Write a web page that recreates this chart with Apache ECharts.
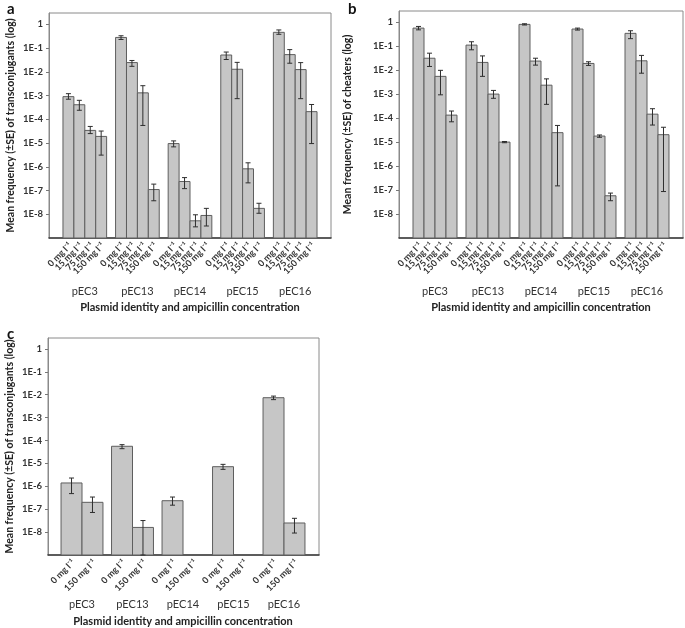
<!DOCTYPE html>
<html>
<head>
<meta charset="utf-8">
<script src="https://cdn.jsdelivr.net/npm/echarts@6/dist/echarts.min.js"></script>
<style>html,body{margin:0;padding:0;background:#fff}#c{width:685px;height:628px}</style>
</head>
<body>
<div id="c"></div>
<script>
const groups = ['pEC3', 'pEC13', 'pEC14', 'pEC15', 'pEC16'];
const dosesAB = ['0 mg l\u207B\u00B9', '15 mg l\u207B\u00B9', '75 mg l\u207B\u00B9', '150 mg l\u207B\u00B9'];
const dosesC = ['0 mg l\u207B\u00B9', '150 mg l\u207B\u00B9'];
const yTickValues = [1e-8, 1e-7, 1e-6, 1e-5, 1e-4, 1e-3, 1e-2, 1e-1, 1];
const yTickLabels = ['1E-8', '1E-7', '1E-6', '1E-5', '1E-4', '1E-3', '1E-2', '1E-1', '1'];
const yMin = 1e-9;
const yMax = 3;

// Panel a: transconjugants (rows = dose, columns = plasmid)
const aMean = [
  [9e-4, 0.28, 9.5e-6, 0.051, 0.46],
  [4.1e-4, 0.0245, 2.4e-7, 0.0128, 0.053],
  [3.4e-5, 1.3e-3, 5.3e-9, 8.2e-7, 0.0124],
  [1.9e-5, 1.1e-7, 8.9e-9, 1.77e-8, 2.1e-4]
];
const aLow = [
  [7e-4, 0.23, 6.9e-6, 0.033, 0.38],
  [2.4e-4, 0.017, 1.2e-7, 7.4e-4, 0.023],
  [2.5e-5, 5.5e-5, 2.95e-9, 2.1e-7, 7.4e-4],
  [3.1e-6, 3.7e-8, 3.2e-9, 1.1e-8, 9.5e-6]
];
const aHigh = [
  [1.2e-3, 0.33, 1.23e-5, 0.068, 0.58],
  [6.3e-4, 0.03, 3.5e-7, 0.025, 0.086],
  [5e-5, 2.6e-3, 9.5e-9, 1.47e-6, 0.0244],
  [3.2e-5, 1.86e-7, 1.77e-8, 2.9e-8, 4.2e-4]
];

// Panel b: cheaters
const bMean = [
  [0.58, 0.113, 0.83, 0.53, 0.35],
  [0.032, 0.0214, 0.0244, 0.0194, 0.025],
  [5.6e-3, 1.02e-3, 2.4e-3, 1.8e-5, 1.48e-4],
  [1.35e-4, 1.01e-5, 2.5e-5, 5.8e-8, 2.06e-5]
];
const bLow = [
  [0.49, 0.072, 0.78, 0.48, 0.21],
  [0.0145, 5.6e-3, 0.0165, 0.016, 7.6e-3],
  [9.5e-4, 6.8e-4, 3.8e-4, 1.6e-5, 5.2e-5],
  [7.1e-5, 9.5e-6, 1.5e-7, 3.6e-8, 8.7e-8]
];
const bHigh = [
  [0.68, 0.156, 0.88, 0.58, 0.45],
  [0.052, 0.04, 0.032, 0.0228, 0.042],
  [0.01, 1.45e-3, 4.4e-3, 2.0e-5, 2.5e-4],
  [2.0e-4, 1.07e-5, 5e-5, 7.5e-8, 4.2e-5]
];

// Panel c: transconjugants
const cMean = [
  [1.4e-6, 5.6e-5, 2.35e-7, 7.2e-6, 7.4e-3],
  [2.0e-7, 1.6e-8, null, null, 2.5e-8]
];
const cLow = [
  [4.8e-7, 4.4e-5, 1.5e-7, 5.5e-6, 6.1e-3],
  [7.2e-8, 1e-9, null, null, 9.1e-9]
];
const cHigh = [
  [2.3e-6, 6.6e-5, 3.4e-7, 9.1e-6, 8.7e-3],
  [3.4e-7, 3.2e-8, null, null, 4.0e-8]
];

const FONT = 'Lato, "Open Sans", sans-serif';
const CAT_GAP = 0.17;

function tickFormatter(v) {
  for (let i = 0; i < yTickValues.length; i++) {
    if (Math.abs(Math.log10(v) - Math.log10(yTickValues[i])) < 1e-6) return yTickLabels[i];
  }
  return '';
}

const option = {
  animation: false,
  backgroundColor: '#fff',
  title: [],
  grid: [], xAxis: [], yAxis: [], series: []
};

function barCenter(api, g, k, n) {
  const c0 = api.coord([0, yMin])[0];
  const c1 = api.coord([1, yMin])[0];
  const band = c1 - c0;
  const cx = api.coord([g, yMin])[0];
  const gw = band * (1 - CAT_GAP);
  const bw = gw / n;
  return { x: cx - gw / 2 + (k + 0.5) * bw, bw: bw };
}

function addPanel(p, frame, inner, means, lows, highs, doses, yTitle, yNameGap, cfg) {
  const fi = 2 * p, ii = 2 * p + 1;
  option.grid.push({
    left: frame.l, top: frame.t, width: frame.r - frame.l, height: frame.b - frame.t,
    show: true, borderColor: '#8a8a8a', borderWidth: 1, backgroundColor: '#fff'
  });
  option.grid.push({
    left: inner.l, top: frame.t, width: inner.r - inner.l, height: frame.b - frame.t
  });
  option.xAxis.push({
    gridIndex: fi, type: 'value', min: 0, max: 1,
    axisLine: { show: true, lineStyle: { color: '#3a3a3a', width: 1.6 } },
    axisTick: { show: false }, axisLabel: { show: false }, splitLine: { show: false }
  });
  option.xAxis.push({
    gridIndex: ii, type: 'category', data: groups,
    axisLine: { show: false }, axisTick: { show: false },
    axisLabel: { margin: cfg.groupMargin, fontFamily: FONT, fontSize: 11, color: '#333' },
    name: 'Plasmid identity and ampicillin concentration',
    nameLocation: 'middle', nameGap: cfg.xNameGap,
    nameTextStyle: { fontFamily: FONT, fontSize: 11, fontWeight: 'bold', color: '#222' }
  });
  option.yAxis.push({
    gridIndex: fi, type: 'log', logBase: 10, min: yMin, max: yMax, splitNumber: 10,
    axisLine: { show: true, lineStyle: { color: '#8a8a8a', width: 1 } },
    axisTick: { show: true, length: 3, lineStyle: { color: '#777' } },
    splitLine: { show: false },
    axisLabel: {
      showMinLabel: false, showMaxLabel: false, margin: cfg.labelMargin,
      fontFamily: FONT, fontSize: 9.5, fontWeight: 'bold', color: '#333',
      formatter: tickFormatter
    },
    name: yTitle, nameLocation: 'middle', nameGap: yNameGap,
    nameTextStyle: { fontFamily: FONT, fontSize: 10.5, fontWeight: 'bold', color: '#222' }
  });
  option.yAxis.push({
    gridIndex: ii, type: 'log', logBase: 10, min: yMin, max: yMax, splitNumber: 10, show: false
  });
  const n = doses.length;
  const barData = [];
  const errData = [];
  const lblData = [];
  for (let k = 0; k < n; k++) {
    for (let g = 0; g < groups.length; g++) {
      if (means[k][g] != null) {
        barData.push([g, k, means[k][g]]);
        errData.push([g, k, lows[k][g], highs[k][g]]);
      }
      lblData.push([g, k, yMin]);
    }
  }
  option.series.push({
    type: 'custom', name: 'bars', xAxisIndex: ii, yAxisIndex: ii, data: barData,
    encode: { x: 0, y: 2 }, z: 3,
    renderItem: function (params, api) {
      const g = api.value(0), k = api.value(1);
      const bc = barCenter(api, g, k, n);
      const yTop = api.coord([g, api.value(2)])[1];
      const yBase = api.coord([g, yMin])[1];
      return {
        type: 'rect',
        shape: { x: bc.x - bc.bw / 2, y: yTop, width: bc.bw, height: yBase - yTop },
        style: { fill: '#c6c6c6', stroke: '#5e5e5e', lineWidth: 1 }
      };
    }
  });
  option.series.push({
    type: 'custom', name: 'SE', xAxisIndex: ii, yAxisIndex: ii, data: errData,
    encode: { x: 0, y: [2, 3] }, z: 5,
    renderItem: function (params, api) {
      const g = api.value(0), k = api.value(1);
      const bc = barCenter(api, g, k, n);
      const yl = api.coord([g, api.value(2)])[1];
      const yh = api.coord([g, api.value(3)])[1];
      const cap = 2.5;
      const st = { stroke: '#2e2e2e', lineWidth: 1 };
      return { type: 'group', children: [
        { type: 'line', shape: { x1: bc.x, y1: yl, x2: bc.x, y2: yh }, style: st },
        { type: 'line', shape: { x1: bc.x - cap, y1: yh, x2: bc.x + cap, y2: yh }, style: st },
        { type: 'line', shape: { x1: bc.x - cap, y1: yl, x2: bc.x + cap, y2: yl }, style: st }
      ] };
    }
  });
  option.series.push({
    type: 'custom', name: 'doses', xAxisIndex: ii, yAxisIndex: ii, data: lblData,
    encode: { x: 0, y: 2 }, clip: false, silent: true,
    renderItem: function (params, api) {
      const g = api.value(0), k = api.value(1);
      const bc = barCenter(api, g, k, n);
      const y0 = api.coord([g, yMin])[1];
      return {
        type: 'text', x: bc.x + 2, y: y0 + 6, rotation: Math.PI / 4,
        style: { text: doses[k], align: 'right', verticalAlign: 'middle',
          font: 'bold 9px ' + FONT, fill: '#333' }
      };
    }
  });
}

addPanel(0, { l: 49, r: 331, t: 13, b: 238 }, { l: 58.5, r: 321.5 },
  aMean, aLow, aHigh, dosesAB, 'Mean frequency (\u00B1SE) of transconjugants (log)', 33,
  { groupMargin: 48, xNameGap: 64, labelMargin: 6 });
addPanel(1, { l: 399, r: 683, t: 11, b: 238 }, { l: 408.5, r: 673.5 },
  bMean, bLow, bHigh, dosesAB, 'Mean frequency (\u00B1SE) of cheaters (log)', 46,
  { groupMargin: 48, xNameGap: 64, labelMargin: 6 });
addPanel(2, { l: 48, r: 319, t: 338, b: 555 }, { l: 56.75, r: 309.25 },
  cMean, cLow, cHigh, dosesC, 'Mean frequency (\u00B1SE) of transconjugants (log)', 33,
  { groupMargin: 44, xNameGap: 61, labelMargin: 6 });

option.title = [
  { text: 'a', left: 2, top: -3, textStyle: { fontFamily: FONT, fontSize: 15, fontWeight: 'bold', color: '#111' } },
  { text: 'b', left: 343, top: -3, textStyle: { fontFamily: FONT, fontSize: 15, fontWeight: 'bold', color: '#111' } },
  { text: 'c', left: 2, top: 322, textStyle: { fontFamily: FONT, fontSize: 15, fontWeight: 'bold', color: '#111' } }
];

const chart = echarts.init(document.getElementById('c'), null, { renderer: 'canvas' });
chart.setOption(option);
</script>
</body>
</html>
